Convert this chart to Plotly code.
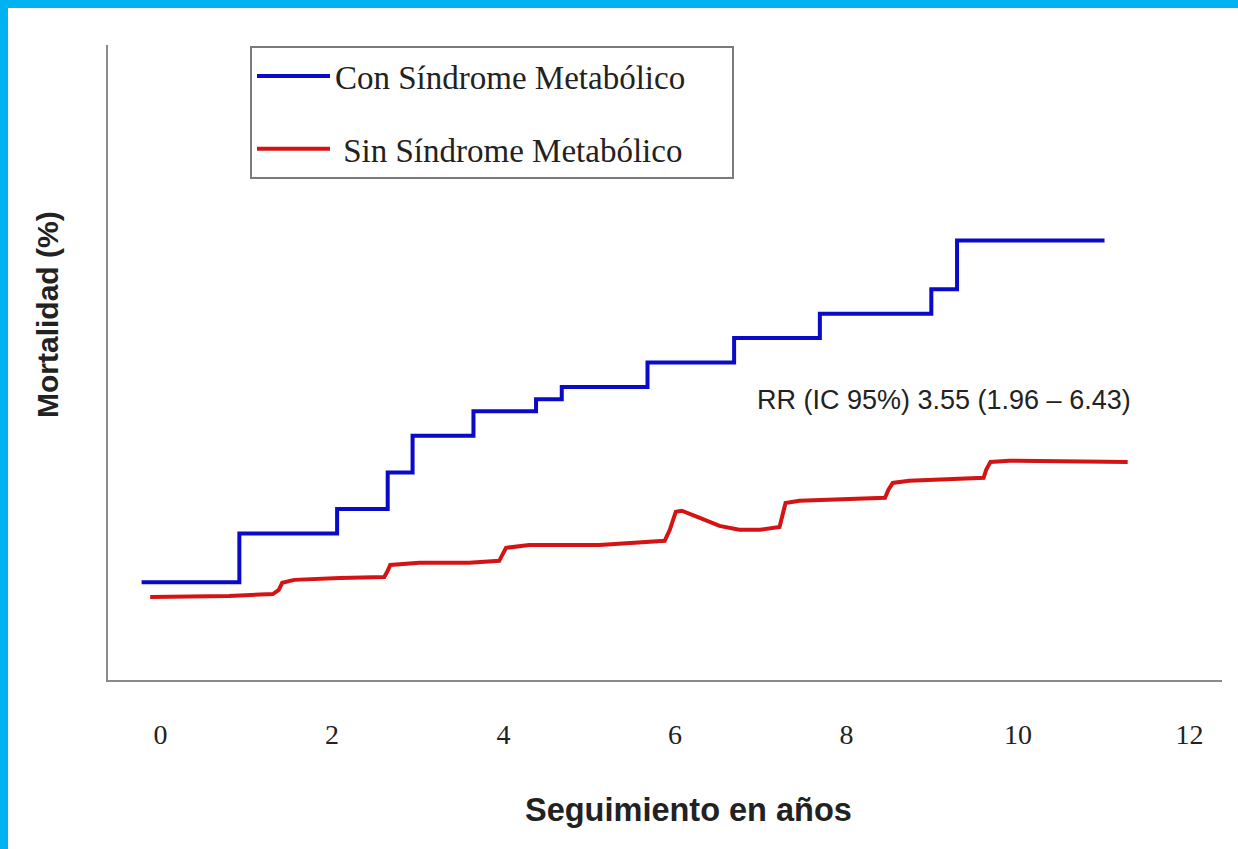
import plotly.graph_objects as go

# ---- data ----
con_x = [-0.22, 0.92, 2.06, 2.65, 2.94, 3.65, 4.38, 4.68, 5.68, 6.69, 7.69, 8.99, 9.29, 11.01]
con_y = [4.0, 6.0, 7.0, 8.5, 10.0, 11.0, 11.5, 12.0, 13.0, 14.0, 15.0, 16.0, 18.0, 18.0]

sin_x = [-0.12, 0.80, 1.31, 1.38, 1.42, 1.56, 2.09, 2.61, 2.65, 2.68, 3.02, 3.60, 3.95, 3.99,
         4.03, 4.30, 5.12, 5.88, 5.94, 6.01, 6.08, 6.29, 6.52, 6.75, 6.99, 7.22, 7.25, 7.29,
         7.45, 8.45, 8.49, 8.54, 8.73, 9.60, 9.63, 9.68, 9.90, 11.28]
sin_y = [3.40, 3.44, 3.52, 3.69, 3.98, 4.10, 4.18, 4.22, 4.47, 4.71, 4.80, 4.80, 4.88, 5.16,
         5.41, 5.53, 5.53, 5.70, 6.15, 6.89, 6.93, 6.64, 6.31, 6.15, 6.15, 6.27, 6.76, 7.25,
         7.34, 7.46, 7.79, 8.07, 8.16, 8.28, 8.61, 8.93, 8.98, 8.93]

x_ticks = [0, 2, 4, 6, 8, 10, 12]
x_ticktext = ["0", "2", "4", "6", "8", "10", "12"]

name_con = "Con Síndrome Metabólico"
name_sin = "\u00a0Sin Síndrome Metabólico"
rr_text = "RR (IC 95%) 3.55 (1.96 – 6.43)"
x_title = "Seguimiento en años"
y_title = "Mortalidad (%)"

# ---- layout geometry ----
W, H = 1238, 849
L, R, T, B = 108, 16, 45, 169
PW, PH = W - L - R, H - T - B

def px_x(px):
    return (px - L) / PW

def px_y(py):
    return (H - B - py) / PH

BLUE = "#0a0ac8"
RED = "#d41414"
AXIS = "#8a8a8a"
CYAN = "#00b2f0"
PAD = "\u00a0" * 5  # widens the legend box to match the reference frame

fig = go.Figure()
fig.add_trace(go.Scatter(x=con_x, y=con_y, mode="lines", line=dict(color=BLUE, width=4, shape="hv"),
                         name=name_con + PAD, legendgroup="a", hoverinfo="skip"))
fig.add_trace(go.Scatter(x=sin_x, y=sin_y, mode="lines", line=dict(color=RED, width=4),
                         name=name_sin + PAD, legendgroup="b", hoverinfo="skip"))

fig.update_layout(
    width=W, height=H,
    margin=dict(l=L, r=R, t=T, b=B, autoexpand=False),
    paper_bgcolor="white", plot_bgcolor="white",
    showlegend=True,
    legend=dict(
        x=px_x(250), y=px_y(46), xanchor="left", yanchor="top",
        bordercolor="#7a7a7a", borderwidth=2, bgcolor="white",
        font=dict(family="Liberation Serif", size=33, color="#222"),
        itemwidth=73, tracegroupgap=27, traceorder="grouped",
    ),
    xaxis=dict(
        range=[-0.612, 12.38], showgrid=False, zeroline=False,
        showline=True, linecolor=AXIS, linewidth=2,
        tickmode="array", tickvals=x_ticks, ticktext=x_ticktext,
        ticks="", ticklabelstandoff=28,
        tickfont=dict(family="Liberation Serif", size=28, color="#222"),
    ),
    yaxis=dict(
        range=[0, 26.0], showgrid=False, zeroline=False,
        showline=True, linecolor=AXIS, linewidth=2,
        showticklabels=False, ticks="",
    ),
    annotations=[
        dict(x=6.93, y=11.48, xref="x", yref="y", text=rr_text, showarrow=False,
             xanchor="left", yanchor="middle",
             font=dict(family="Liberation Sans", size=27, color="#222")),
        dict(x=px_x(688), y=px_y(810), xref="paper", yref="paper", text=x_title, showarrow=False,
             xanchor="center", yanchor="middle",
             font=dict(family="Liberation Sans", size=32.5, color="#222", weight="bold")),
        dict(x=px_x(47), y=px_y(315), xref="paper", yref="paper", text=y_title, showarrow=False,
             xanchor="center", yanchor="middle", textangle=-90,
             font=dict(family="Liberation Sans", size=30, color="#222", weight="bold")),
    ],
    shapes=[
        dict(type="rect", xref="paper", yref="paper", x0=px_x(0), x1=px_x(W), y0=px_y(0), y1=px_y(8),
             fillcolor=CYAN, line=dict(width=0), layer="above"),
        dict(type="rect", xref="paper", yref="paper", x0=px_x(0), x1=px_x(8), y0=px_y(0), y1=px_y(H),
             fillcolor=CYAN, line=dict(width=0), layer="above"),
    ],
)

fig.write_html("out.html", config={"displayModeBar": False},
               post_script="document.body.style.margin='0px';")
